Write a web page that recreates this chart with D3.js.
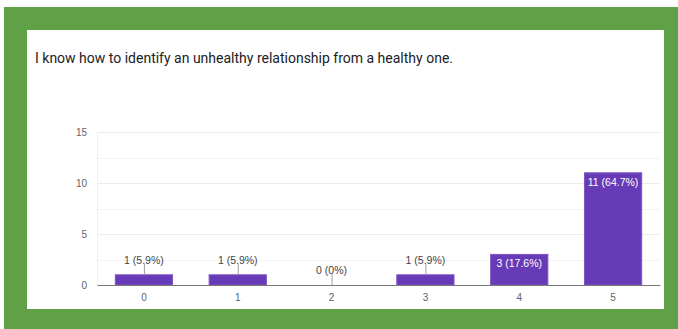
<!DOCTYPE html>
<html>
<head>
<meta charset="utf-8">
<script src="https://cdn.jsdelivr.net/npm/d3@7"></script>
<style>
  html, body { margin: 0; padding: 0; background: #ffffff; }
  svg { display: block; }
</style>
</head>
<body>
<svg id="chart" width="678" height="329"></svg>
<script>
// Survey answers (scale 0–5) and how many responses each received
const categories = ["0", "1", "2", "3", "4", "5"];
const counts = [1, 1, 0, 1, 3, 11];
const percentLabels = ["5.9%", "5.9%", "0%", "5.9%", "17.6%", "64.7%"];
const yTickValues = [0, 5, 10, 15];
const yGridValues = [0, 2.5, 5, 7.5, 10, 12.5, 15];
const title = "I know how to identify an unhealthy relationship from a healthy one.";

const svg = d3.select("#chart");
const W = 678, H = 329;

// Green frame with a white card inside
svg.append("rect").attr("x", 4).attr("y", 7).attr("width", W - 4).attr("height", H - 7)
  .attr("fill", "#60a046");
svg.append("rect").attr("x", 27).attr("y", 30).attr("width", 637).attr("height", 279)
  .attr("fill", "#ffffff");

svg.append("text")
  .attr("x", 35).attr("y", 63)
  .attr("font-family", "Roboto, Arial, sans-serif")
  .attr("font-size", 14)
  .attr("fill", "#202124")
  .text(title);

const plot = { left: 97, right: 660, top: 132, bottom: 285 };

const x = d3.scaleBand()
  .domain(categories)
  .range([plot.left, plot.right])
  .paddingInner(0.39)
  .paddingOuter(0.195);

const y = d3.scaleLinear()
  .domain([0, 15])
  .range([plot.bottom, plot.top]);

const font = "'Liberation Sans', Arial, sans-serif";

// Horizontal gridlines (major and minor)
svg.append("g").selectAll("line")
  .data(yGridValues.filter(v => v !== 0))
  .join("line")
  .attr("x1", plot.left).attr("x2", plot.right)
  .attr("y1", d => Math.round(y(d)) + 0.5).attr("y2", d => Math.round(y(d)) + 0.5)
  .attr("stroke", d => d % 5 === 0 ? "#ececec" : "#f4f4f4")
  .attr("stroke-width", 1);

// Left edge of the plot area
svg.append("line")
  .attr("x1", plot.left + 0.5).attr("x2", plot.left + 0.5)
  .attr("y1", plot.top).attr("y2", plot.bottom)
  .attr("stroke", "#f0f0f0");

// Y axis labels
const yAxis = d3.axisLeft(y).tickValues(yTickValues).tickSize(0).tickPadding(10);
const gy = svg.append("g").attr("transform", `translate(${plot.left},0)`).call(yAxis);
gy.select(".domain").remove();
gy.selectAll("text").attr("font-family", font).attr("font-size", 10).attr("fill", "#5f6368");

// Bars
svg.append("g").selectAll("rect")
  .data(counts)
  .join("rect")
  .attr("x", (d, i) => x(categories[i]))
  .attr("width", x.bandwidth())
  .attr("y", d => y(d))
  .attr("height", d => y(0) - y(d))
  .attr("fill", "#673ab7")
  .attr("stroke", "#7e57c2")
  .attr("stroke-width", 1);

// Baseline axis with category labels
const xAxis = d3.axisBottom(x).tickSize(0).tickPadding(9);
const gx = svg.append("g").attr("transform", `translate(0,${plot.bottom})`).call(xAxis);
gx.select(".domain").attr("stroke", "#777").attr("stroke-width", 1.2);
gx.selectAll("text").attr("font-family", font).attr("font-size", 10).attr("fill", "#5f6368");

// Value labels: inside tall bars, above short bars with a leader line
const labels = svg.append("g");
counts.forEach((v, i) => {
  const cx = x(categories[i]) + x.bandwidth() / 2;
  const txt = `${v} (${percentLabels[i]})`;
  const inside = (y(0) - y(v)) > 18;
  if (inside) {
    labels.append("text")
      .attr("x", cx).attr("y", y(v) + 13)
      .attr("text-anchor", "middle")
      .attr("font-family", font).attr("font-size", 10.5)
      .attr("fill", "#ffffff")
      .text(txt);
  } else {
    const top = y(v);
    labels.append("line")
      .attr("x1", cx + 0.5).attr("x2", cx + 0.5)
      .attr("y1", top).attr("y2", top - 11)
      .attr("stroke", "#9e9e9e").attr("stroke-width", 1);
    labels.append("text")
      .attr("x", cx).attr("y", top - 11)
      .attr("text-anchor", "middle")
      .attr("font-family", font).attr("font-size", 10.5)
      .attr("fill", "#444")
      .text(txt);
  }
});
</script>
</body>
</html>
